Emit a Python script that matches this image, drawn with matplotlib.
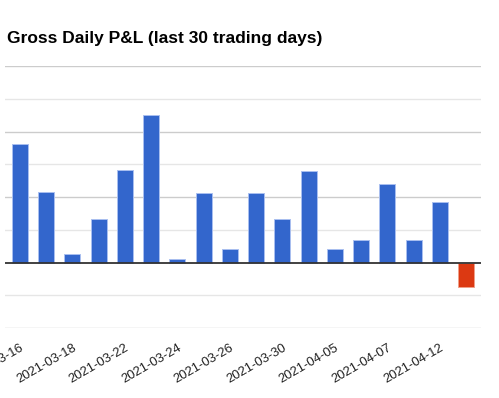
import numpy as np
import matplotlib
matplotlib.use("Agg")
import matplotlib.pyplot as plt

dates = ["2021-03-16", "2021-03-17", "2021-03-18", "2021-03-19", "2021-03-22",
         "2021-03-23", "2021-03-24", "2021-03-25", "2021-03-26", "2021-03-29",
         "2021-03-30", "2021-04-01", "2021-04-05", "2021-04-06", "2021-04-07",
         "2021-04-08", "2021-04-12", "2021-04-13"]
pnl = [1810, 1080, 135, 665, 1405, 2245, 55, 1065, 205, 1065,
       665, 1390, 205, 340, 1200, 340, 930, -380]

plt.rcParams['font.family'] = ['Liberation Sans', 'DejaVu Sans']

fig = plt.figure(figsize=(4.99, 3.98), dpi=100)
ax = fig.add_axes([5 / 499, 1 - 328 / 398, 476 / 499, 262 / 398])

x = np.arange(len(pnl))
colors = ["#3366cc" if v >= 0 else "#dc3912" for v in pnl]
edges = ["#a9bff0" if v >= 0 else "#f0a08a" for v in pnl]
ax.bar(x, pnl, width=0.61, color=colors, edgecolor=edges, linewidth=0.7, zorder=3)

ax.set_xlim(-0.57, len(pnl) - 0.43)
ax.set_ylim(-1000, 3000)

# gridlines: major every 1000, minor in between
for y in np.arange(-1000, 3001, 500):
    if y == 0:
        continue
    c = "#cccccc" if y % 1000 == 0 else "#e6e6e6"
    ax.axhline(y, color=c, linewidth=1, zorder=1)
ax.axhline(0, color="#333333", linewidth=1.3, zorder=4)

for s in ax.spines.values():
    s.set_visible(False)
ax.set_yticks([])
ax.set_xticks(x[::2])
ax.set_xticklabels(dates[::2], rotation=30, ha="right", rotation_mode="anchor",
                   fontsize=9.4, color="#222222")
ax.tick_params(axis="x", length=0, pad=10)

fig.text(7 / 499, 1 - 39 / 398, "Gross Daily P&L (last 30 trading days)",
         fontsize=12.5, fontweight="bold", va="center", ha="left", color="#000000")

fig.savefig("out.png", dpi=100)
